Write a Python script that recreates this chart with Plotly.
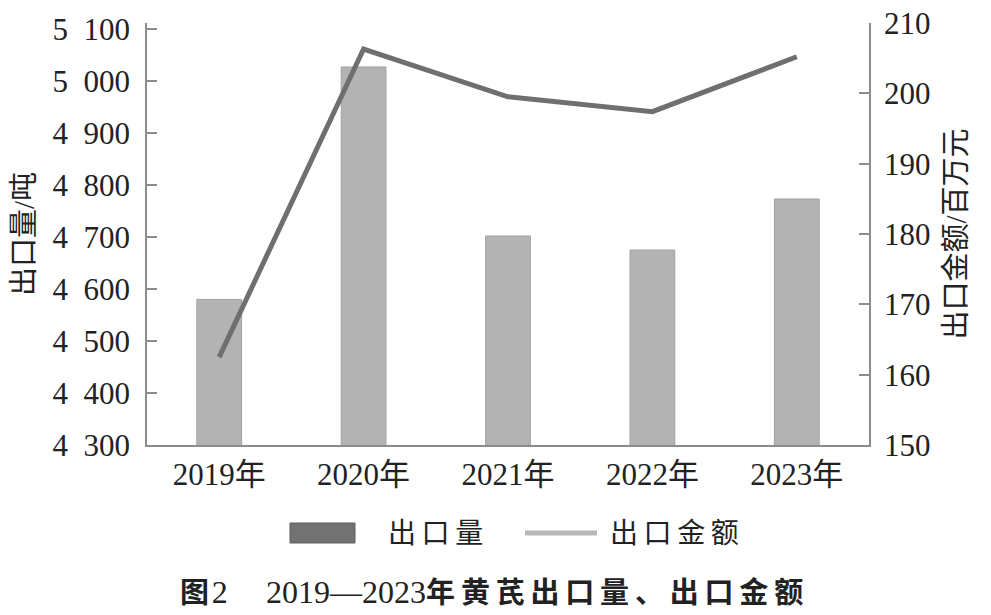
import plotly.graph_objects as go

YEARS = ["2019年", "2020年", "2021年", "2022年", "2023年"]
EXPORT_VOLUME = [4580, 5027, 4702, 4675, 4773]  # 出口量/吨
EXPORT_VALUE = [162.5, 206.3, 199.5, 197.4, 205.2]  # 出口金额/百万元

LEFT_TICKS = [4300, 4400, 4500, 4600, 4700, 4800, 4900, 5000, 5100]
LEFT_TICK_LABELS = [
    "4\u2002300", "4\u2002400", "4\u2002500", "4\u2002600", "4\u2002700",
    "4\u2002800", "4\u2002900", "5\u2002000", "5\u2002100",
]
RIGHT_TICKS = [150, 160, 170, 180, 190, 200, 210]

FONT_FAMILY = '"Liberation Serif", "Noto Sans CJK SC", serif'
TEXT_COLOR = "#222222"
AXIS_COLOR = "#8c8c8c"
BAR_COLOR = "#b3b3b3"
LINE_COLOR = "#6f6f6f"

TICK_FONT = {"size": 31, "color": TEXT_COLOR, "family": FONT_FAMILY}
TITLE_FONT = {"size": 29, "color": TEXT_COLOR, "family": FONT_FAMILY}
LEGEND_FONT = {"size": 28, "color": TEXT_COLOR, "family": FONT_FAMILY}

# plot area as seen on the page (the page body adds an 8px offset)
PAGE_OFFSET = 8
PLOT_LEFT, PLOT_RIGHT, PLOT_TOP, PLOT_BOTTOM = 147, 869, 23, 445


def px_x(p):
    return (p - PLOT_LEFT) / (PLOT_RIGHT - PLOT_LEFT)


def px_y(p):
    return (PLOT_BOTTOM - p) / (PLOT_BOTTOM - PLOT_TOP)


def spaced(text, gap="\u2009"):
    # the original typesets Chinese with a little letter spacing
    return gap.join(text)


bars = go.Bar(
    x=YEARS,
    y=EXPORT_VOLUME,
    name="出口量",
    width=0.31,
    marker={"color": BAR_COLOR, "line": {"color": "#a2a2a2", "width": 1}},
    showlegend=False,
)

line = go.Scatter(
    x=YEARS,
    y=EXPORT_VALUE,
    name="出口金额",
    mode="lines",
    yaxis="y2",
    line={"color": LINE_COLOR, "width": 5},
    showlegend=False,
)

axis_common = {
    "automargin": False,
    "showgrid": False,
    "zeroline": False,
    "showline": True,
    "linecolor": AXIS_COLOR,
    "linewidth": 1.5,
    "ticks": "inside",
    "ticklen": 10,
    "tickwidth": 1.5,
    "tickcolor": AXIS_COLOR,
    "tickfont": TICK_FONT,
    "ticklabeloverflow": "allow",
}

layout = go.Layout(
    width=991,
    height=615,
    margin={
        "l": PLOT_LEFT - PAGE_OFFSET,
        "r": 991 - (PLOT_RIGHT - PAGE_OFFSET),
        "t": PLOT_TOP - PAGE_OFFSET,
        "b": 615 - (PLOT_BOTTOM - PAGE_OFFSET),
    },
    paper_bgcolor="white",
    plot_bgcolor="white",
    font={"family": FONT_FAMILY, "color": TEXT_COLOR},
    xaxis={
        "automargin": False,
        "type": "category",
        "range": [-0.5, 4.5],
        "showgrid": False,
        "zeroline": False,
        "showline": True,
        "linecolor": AXIS_COLOR,
        "linewidth": 1.5,
        "ticks": "",
        "ticklabelstandoff": 1,
        "tickfont": TICK_FONT,
    },
    yaxis={
        **axis_common,
        "range": [4300, 4300 + (PLOT_BOTTOM - PLOT_TOP) / 0.52],
        "tickvals": LEFT_TICKS,
        "ticktext": LEFT_TICK_LABELS,
        "ticklabelstandoff": 9,
        "title": {"text": "出口量/吨", "font": TITLE_FONT, "standoff": 12},
    },
    yaxis2={
        **axis_common,
        "overlaying": "y",
        "side": "right",
        "range": [150, 210],
        "tickvals": RIGHT_TICKS,
        "ticklabelstandoff": 7,
        "title": {"text": "出口金额/百万元", "font": TITLE_FONT, "standoff": 16},
    },
    showlegend=False,
)

# hand-drawn legend below the chart, as in the original figure
shapes = [
    {
        "type": "rect",
        "xref": "paper",
        "yref": "paper",
        "x0": px_x(290),
        "x1": px_x(355),
        "y0": px_y(543),
        "y1": px_y(523),
        "fillcolor": "#727272",
        "line": {"color": "#5e5e5e", "width": 1},
    },
    {
        "type": "line",
        "xref": "paper",
        "yref": "paper",
        "x0": px_x(525),
        "x1": px_x(597),
        "y0": px_y(533),
        "y1": px_y(533),
        "line": {"color": "#b8b8b8", "width": 5},
    },
]

caption = (
    "<b>图</b><span style='font-size:32px'>\u200a2\u2003\u20092019—2023</span>"
    "<b>" + spaced("年黄芪出口量、出口金额") + "</b>"
)

annotations = [
    {
        "text": spaced("出口量"),
        "xref": "paper",
        "yref": "paper",
        "x": px_x(386),
        "y": px_y(533),
        "xanchor": "left",
        "yanchor": "middle",
        "showarrow": False,
        "font": LEGEND_FONT,
    },
    {
        "text": spaced("出口金额"),
        "xref": "paper",
        "yref": "paper",
        "x": px_x(608),
        "y": px_y(533),
        "xanchor": "left",
        "yanchor": "middle",
        "showarrow": False,
        "font": LEGEND_FONT,
    },
    {
        "text": caption,
        "xref": "paper",
        "yref": "paper",
        "x": px_x(491),
        "y": px_y(592),
        "xanchor": "center",
        "yanchor": "middle",
        "showarrow": False,
        "font": {"size": 29, "color": TEXT_COLOR, "family": FONT_FAMILY},
    },
]

layout.update(shapes=shapes, annotations=annotations)

fig = go.Figure([bars, line], layout=layout)
fig.write_html("out.html")
